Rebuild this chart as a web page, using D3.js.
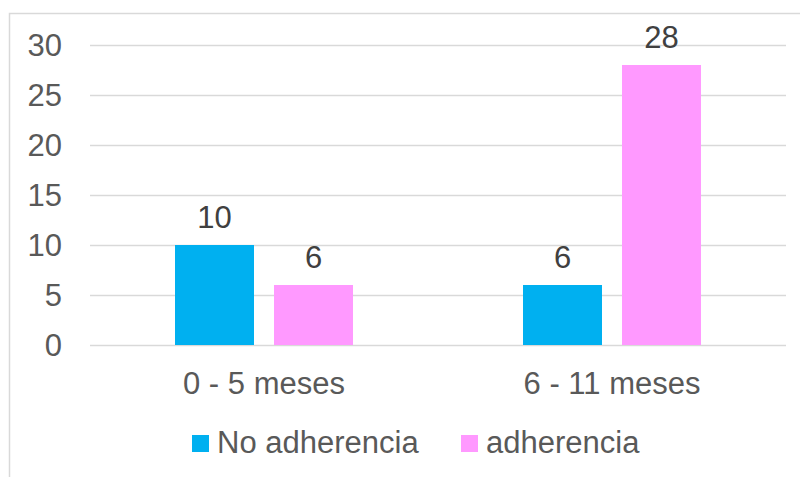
<!DOCTYPE html>
<html>
<head>
<meta charset="utf-8">
<script src="https://cdn.jsdelivr.net/npm/d3@7"></script>
<style>
  body { margin: 0; background: #fff; }
  text { font-family: "Liberation Sans", Arial, sans-serif; }
</style>
</head>
<body>
<div id="chart"></div>
<script>
const categories = ['0 - 5 meses', '6 - 11 meses'];
const seriesNames = ['No adherencia', 'adherencia'];
const noAdherencia = [10, 6];
const adherencia = [6, 28];
const yTicks = [0, 5, 10, 15, 20, 25, 30];

const colors = ['#00B0F0', '#FF99FF'];
const seriesValues = [noAdherencia, adherencia];

const width = 800, height = 477;

const svg = d3.select("#chart")
    .append("svg")
    .attr("width", width)
    .attr("height", height);

// chart border (right/bottom edges fall outside the picture)
svg.append("rect")
    .attr("x", 9.5)
    .attr("y", 13.5)
    .attr("width", 820)
    .attr("height", 500)
    .style("fill", "none")
    .style("stroke", "#d9d9d9")
    .style("stroke-width", 1.5);

const y = d3.scaleLinear()
    .domain([0, 30])
    .range([345, 45]);

const x0 = d3.scaleBand()
    .domain(categories)
    .range([90, 786])
    .paddingInner(0.4885)
    .paddingOuter(0.24425);

const x1 = d3.scaleBand()
    .domain(seriesNames)
    .range([0, x0.bandwidth()])
    .paddingInner(0.202);

// gridlines
svg.selectAll(".grid")
    .data(yTicks)
    .enter()
    .append("line")
    .attr("x1", 90)
    .attr("x2", 786)
    .attr("y1", d => y(d) + 0.5)
    .attr("y2", d => y(d) + 0.5)
    .style("stroke", "#d9d9d9")
    .style("stroke-width", 1.5);

// y tick labels
svg.selectAll(".ytick")
    .data(yTicks)
    .enter()
    .append("text")
    .attr("x", 62)
    .attr("y", d => y(d))
    .attr("dy", "0.35em")
    .attr("text-anchor", "end")
    .style("font-size", "31px")
    .style("fill", "#595959")
    .text(d => d);

// bars + value labels
seriesNames.forEach((name, s) => {
    const g = svg.append("g");
    g.selectAll("rect")
        .data(seriesValues[s])
        .enter()
        .append("rect")
        .attr("x", (d, i) => x0(categories[i]) + x1(name))
        .attr("y", d => y(d))
        .attr("width", x1.bandwidth())
        .attr("height", d => y(0) - y(d))
        .style("fill", colors[s]);

    g.selectAll("text")
        .data(seriesValues[s])
        .enter()
        .append("text")
        .attr("x", (d, i) => x0(categories[i]) + x1(name) + x1.bandwidth() / 2)
        .attr("y", d => y(d) - 17)
        .attr("text-anchor", "middle")
        .style("font-size", "31px")
        .style("fill", "#404040")
        .text(d => d);
});

// category labels
svg.selectAll(".xlabel")
    .data(categories)
    .enter()
    .append("text")
    .attr("x", d => x0(d) + x0.bandwidth() / 2)
    .attr("y", 394)
    .attr("text-anchor", "middle")
    .style("font-size", "31px")
    .style("fill", "#595959")
    .text(d => d);

// legend
const legendX = [192, 461];
seriesNames.forEach((name, s) => {
    svg.append("rect")
        .attr("x", legendX[s])
        .attr("y", 435)
        .attr("width", 17)
        .attr("height", 17)
        .style("fill", colors[s]);
    svg.append("text")
        .attr("x", legendX[s] + 25)
        .attr("y", 453)
        .style("font-size", "31px")
        .style("fill", "#595959")
        .text(name);
});
</script>
</body>
</html>
